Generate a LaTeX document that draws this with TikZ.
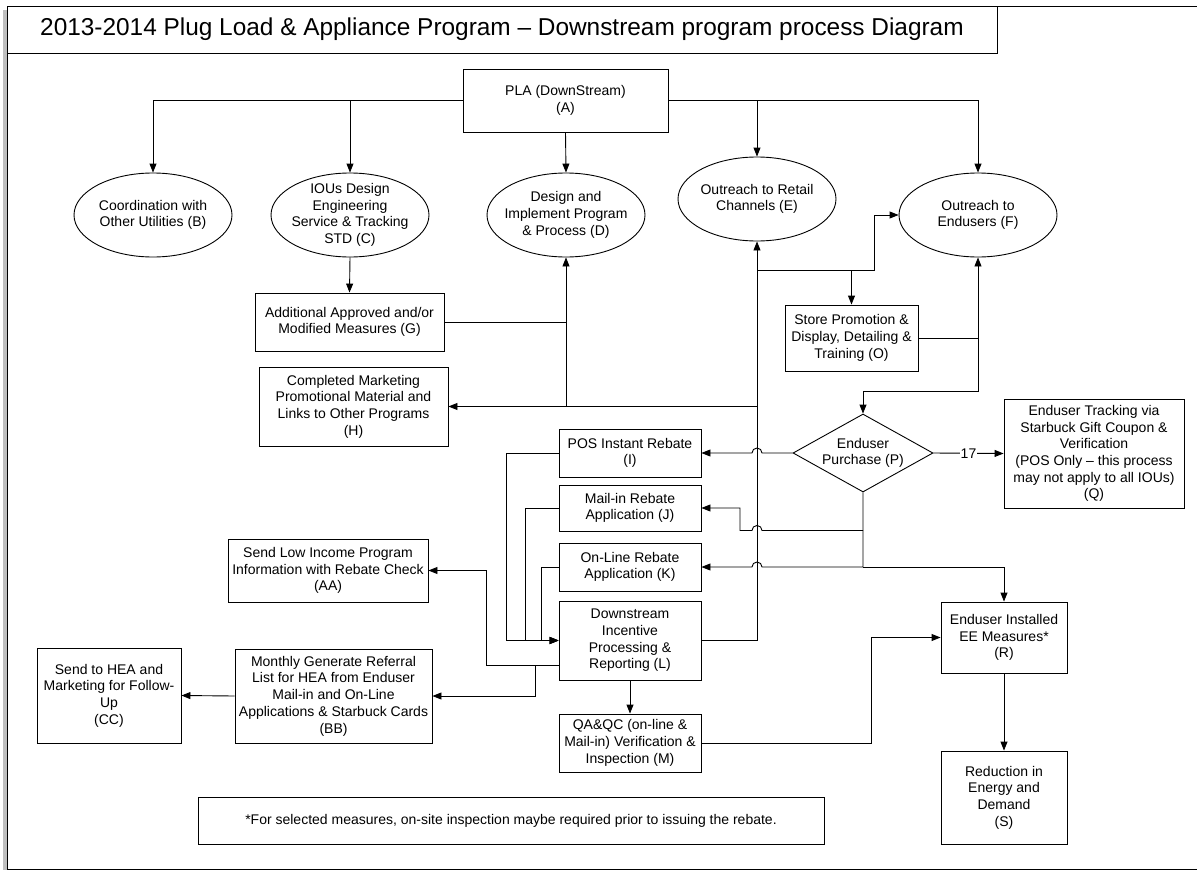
\documentclass[tikz,border=0pt]{standalone}
\usepackage{fontspec}
\setmainfont{Liberation Sans}
\usetikzlibrary{shapes.geometric,arrows.meta,calc}

\begin{document}
\begin{tikzpicture}[x=1pt,y=-1pt,line width=0.9pt,
  box/.style={draw,rectangle,align=center,inner sep=0pt,font=\fontsize{14}{16.7}\selectfont},
  oval/.style={draw,ellipse,minimum width=158pt,minimum height=84pt,inner sep=0pt},
  txt/.style={align=center,inner sep=0pt,font=\fontsize{14}{16.7}\selectfont},
  choice/.style={draw,diamond,aspect=1.8,minimum width=140pt,minimum height=78pt,inner sep=0pt,align=center,font=\fontsize{14}{16.7}\selectfont},
  link/.style={-{Triangle[length=9pt,width=7pt]}}]
\useasboundingbox (0,0) rectangle (1197,870);
\fill[black!25] (3,10) rectangle (1200,873);
\filldraw[fill=white] (7,6) rectangle (1200,869);
\node[box,minimum width=990pt,minimum height=47pt,font=\fontsize{24.4}{28}\selectfont] (title) at (502,29.5) {2013-2014 Plug Load \& Appliance Program – Downstream program process Diagram};
\node[box,minimum width=205pt,minimum height=63pt] (A) at (565.5,100.5) {PLA (DownStream)\\(A)};
\node[oval] (B) at (153,215) {};
\node[txt] (Bt) at (B) {Coordination with\\Other Utilities (B)};
\node[oval] (C) at (350,215) {};
\node[txt] (Ct) at (C) {IOUs Design\\Engineering\\Service \& Tracking\\STD (C)};
\node[oval] (D) at (566,215) {};
\node[txt] (Dt) at (D) {Design and\\Implement Program\\\& Process (D)};
\node[oval] (E) at (757,199) {};
\node[txt] (Et) at (E) {Outreach to Retail\\Channels (E)};
\node[oval] (F) at (978,215) {};
\node[txt] (Ft) at (F) {Outreach to\\Endusers (F)};
\node[box,minimum width=189pt,minimum height=58pt] (G) at (349.5,322) {Additional Approved and/or\\Modified Measures (G)};
\node[box,minimum width=189pt,minimum height=79pt] (H) at (353.5,406.5) {Completed Marketing\\Promotional Material and\\Links to Other Programs\\(H)};
\node[box,minimum width=133pt,minimum height=66pt] (O) at (851.5,338) {Store Promotion \&\\Display, Detailing \&\\Training (O)};
\node[choice] (P) at (863,453) {Enduser\\Purchase (P)};
\node[box,minimum width=180pt,minimum height=109pt] (Q) at (1094,453.5) {Enduser Tracking via\\Starbuck Gift Coupon \&\\Verification\\(POS Only – this process\\may not apply to all IOUs)\\(Q)};
\node[box,minimum width=142pt,minimum height=48pt] (I) at (630,453) {POS Instant Rebate\\(I)};
\node[box,minimum width=142pt,minimum height=46pt] (J) at (630,508) {Mail-in Rebate\\Application (J)};
\node[box,minimum width=142pt,minimum height=48pt] (K) at (630,567) {On-Line Rebate\\Application (K)};
\node[box,minimum width=142pt,minimum height=79pt] (L) at (630,640.5) {Downstream\\Incentive\\Processing \&\\Reporting (L)};
\node[box,minimum width=142pt,minimum height=58pt] (M) at (630,743) {QA\&QC (on-line \&\\Mail-in) Verification \&\\Inspection (M)};
\node[box,minimum width=200pt,minimum height=63pt] (AA) at (328,570.5) {Send Low Income Program\\Information with Rebate Check\\(AA)};
\node[box,minimum width=197pt,minimum height=94pt] (BB) at (333.5,696) {Monthly Generate Referral\\List for HEA from Enduser\\Mail-in and On-Line\\Applications \& Starbuck Cards\\(BB)};
\node[box,minimum width=144pt,minimum height=95pt] (CC) at (109,695.5) {Send to HEA and\\Marketing for Follow-\\Up\\(CC)};
\node[box,minimum width=126pt,minimum height=71pt] (R) at (1004,637.5) {Enduser Installed\\EE Measures*\\(R)};
\node[box,minimum width=126pt,minimum height=93pt] (S) at (1004,797.5) {Reduction in\\Energy and\\Demand\\(S)};
\node[box,minimum width=626pt,minimum height=47pt] (note) at (511,820.5) {*For selected measures, on-site inspection maybe required prior to issuing the rebate.};

\draw[link] (A.west) -| (B.north);
\draw[link] (A.west -| C.north) -- (C.north);
\draw[link] (A.south) -- (D.north);
\draw[link] (A.east -| E.north) -- (E.north);
\draw[link] (A.east) -| (F.north);
\draw[link] (C.south) -- (G.north);
\draw (G.east) -- (G.east -| D.south);
\draw[link] (D.south |- H.east) -- (D.south);
\draw[link] (L.east) -| (E.south);
\draw[link] (E.south |- H.east) -- (H.east);
\coordinate (EO) at ($(E.south)+(0,29)$);
\coordinate (FO) at ($(EO)+(117,0)$);
\draw[link] (EO) -- (FO) |- (F.west);
\draw[link] (EO -| O.north) -- (O.north);
\draw[link] (O.east) -| (F.south);
\coordinate (PF) at ($(F.south)+(0,134)$);
\draw[link] (O.east -| F.south) -- (PF) -| (P.north);
\draw[link] (P.east) -- node[txt,fill=white,inner sep=1pt] (n17) {17} (Q.west);
\draw[link] (P.west) -- ($(E.south |- P.west)+(5,0)$) arc[start angle=0,end angle=180,radius=5pt] -- (I.east);
\coordinate (JB) at ($(P.south)+(-123,38)$);
\draw[link] (P.south |- JB) -- ($(E.south |- JB)+(5,0)$) arc[start angle=0,end angle=180,radius=5pt] -- (JB) |- (J.east);
\draw[link] (P.south) |- ($(E.south |- K.east)+(5,0)$) arc[start angle=0,end angle=180,radius=5pt] -- (K.east);
\draw[link] (P.south |- K.east) -| (R.north);
\draw[link] (I.west) -- ++(-52,0) |- (L.west);
\draw[link] (J.west) -- ++(-33,0) |- (L.west);
\draw[link] (K.west) -- ++(-17,0) |- (L.west);
\coordinate (LO) at ($(L.south west)+(0,-15)$);
\draw[link] (LO) -- ++(-72,0) |- (AA.east);
\draw[link] (LO) -- ++(-23,0) |- (BB.east);
\draw[link] (BB.west) -- (CC.east);
\draw[link] (L.south) -- (M.north);
\draw[link] (M.east) -- ++(170,0) |- (R.west);
\draw[link] (R.south) -- (S.north);
\end{tikzpicture}
\end{document}
